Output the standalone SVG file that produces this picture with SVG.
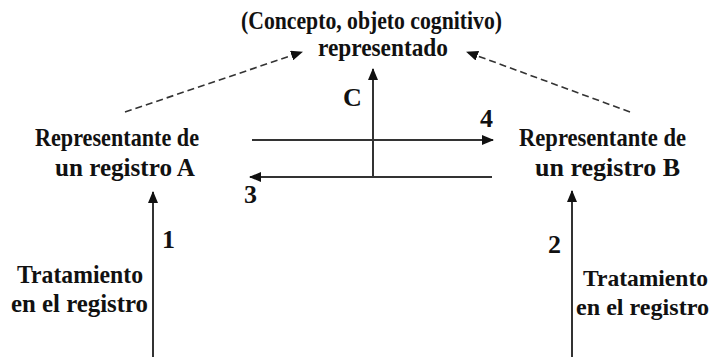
<svg xmlns="http://www.w3.org/2000/svg" width="716" height="357" viewBox="0 0 716 357">
<style>
.t{font-family:'Liberation Serif','Times New Roman',serif;font-weight:700;font-size:26px;fill:#111;}
.e{text-anchor:end;font-size:24px;}
.s{stroke:#333;stroke-width:2;fill:none;}
.d{stroke:#333;stroke-width:1.6;fill:none;stroke-dasharray:7 4;}
</style>
<defs>
<marker id="ah" markerUnits="userSpaceOnUse" markerWidth="12" markerHeight="10" refX="11" refY="5" orient="auto">
<path d="M0,0 L12,5 L0,10 z" fill="#111"/>
</marker>
</defs>
<rect width="716" height="357" fill="#fff"/>
<g id="concepto">
<text class="t" x="241" y="29" textLength="261" lengthAdjust="spacingAndGlyphs">(Concepto, objeto cognitivo)</text>
<text class="t" x="318" y="56" textLength="130" lengthAdjust="spacingAndGlyphs">representado</text>
</g>
<g id="registroA">
<text class="t" x="35" y="146" textLength="164" lengthAdjust="spacingAndGlyphs">Representante de</text>
<text class="t" x="55" y="176" textLength="140" lengthAdjust="spacingAndGlyphs">un registro A</text>
</g>
<g id="registroB">
<text class="t" x="519" y="146" textLength="167" lengthAdjust="spacingAndGlyphs">Representante de</text>
<text class="t" x="535" y="176" textLength="145" lengthAdjust="spacingAndGlyphs">un registro B</text>
</g>
<g id="tratamientoA">
<text class="t" x="17" y="283" textLength="126" lengthAdjust="spacingAndGlyphs">Tratamiento</text>
<text class="t" x="11" y="312" textLength="137" lengthAdjust="spacingAndGlyphs">en el registro</text>
</g>
<g id="tratamientoB">
<text class="t e" x="708" y="286" textLength="125" lengthAdjust="spacingAndGlyphs">Tratamiento</text>
<text class="t e" x="709" y="315" textLength="133" lengthAdjust="spacingAndGlyphs">en el registro</text>
</g>
<g id="connectors">
<line class="s" x1="153" y1="357" x2="153" y2="192" marker-end="url(#ah)"/>
<line class="s" x1="572" y1="357" x2="572" y2="191" marker-end="url(#ah)"/>
<line class="s" x1="373" y1="177" x2="373" y2="69" marker-end="url(#ah)"/>
<line class="s" x1="252" y1="140" x2="493" y2="140" marker-end="url(#ah)"/>
<line class="s" x1="492" y1="177" x2="250" y2="177" marker-end="url(#ah)"/>
<line class="d" x1="125" y1="112" x2="302" y2="52" marker-end="url(#ah)"/>
<line class="d" x1="630" y1="112" x2="467" y2="52" marker-end="url(#ah)"/>
</g>
<g id="labels">
<text class="t" x="162" y="248">1</text>
<text class="t" x="548" y="253">2</text>
<text class="t" x="244" y="203">3</text>
<text class="t" x="480" y="127">4</text>
<text class="t" x="343" y="106">C</text>
</g>
</svg>
